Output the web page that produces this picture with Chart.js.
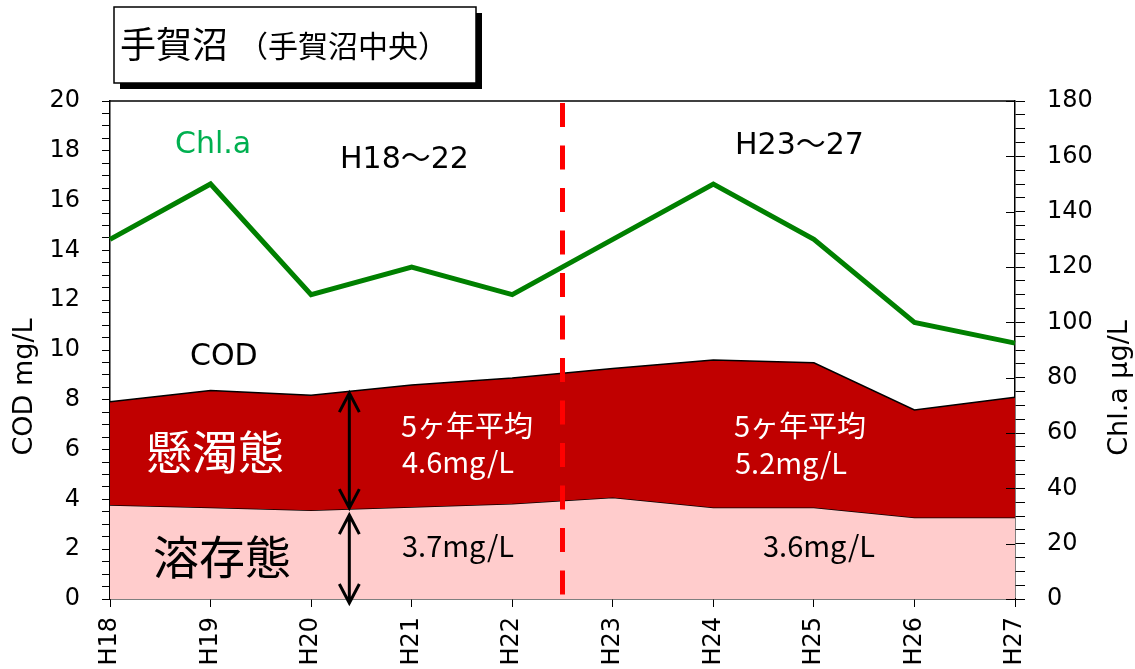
<!DOCTYPE html>
<html lang="ja">
<head>
<meta charset="utf-8">
<title>手賀沼（手賀沼中央）</title>
<script src="https://cdn.jsdelivr.net/npm/chart.js@4.4.1/dist/chart.umd.min.js"></script>
<style>
  html, body { margin: 0; padding: 0; background: #fff; }
  canvas { display: block; }
</style>
</head>
<body>
<canvas id="myChart" width="1135" height="669"></canvas>
<script>
/* globals Chart:false */

// Data
const years = ['H18', 'H19', 'H20', 'H21', 'H22', 'H23', 'H24', 'H25', 'H26', 'H27']
const codDissolved = [3.78, 3.67, 3.56, 3.69, 3.83, 4.08, 3.67, 3.67, 3.27, 3.27]
const codTotal = [7.92, 8.37, 8.18, 8.59, 8.88, 9.26, 9.6, 9.49, 7.59, 8.1]
const chla = [130, 150, 110, 120, 110, 130, 150, 130, 100, 92.5]

const codTicks = [0, 2, 4, 6, 8, 10, 12, 14, 16, 18, 20]
const chlaTicks = [0, 20, 40, 60, 80, 100, 120, 140, 160, 180];

(() => {
  'use strict'

  const JP = '"Noto Sans CJK JP", sans-serif'
  const LAT = '"DejaVu Sans", "Noto Sans CJK JP", sans-serif'

  const arrow = (ctx, x, y0, y1) => {
    ctx.beginPath()
    ctx.moveTo(x, y0)
    ctx.lineTo(x, y1)
    ctx.moveTo(x - 10, y0 + 19)
    ctx.lineTo(x, y0)
    ctx.lineTo(x + 10, y0 + 19)
    ctx.moveTo(x - 10, y1 - 19)
    ctx.lineTo(x, y1)
    ctx.lineTo(x + 10, y1 - 19)
    ctx.stroke()
  }

  const decorations = {
    id: 'decorations',
    afterDraw (chart) {
      const { ctx, chartArea: a, scales: { x, y, y1 } } = chart
      ctx.save()

      // top of plot frame
      ctx.strokeStyle = '#000'
      ctx.lineWidth = 1.5
      ctx.beginPath()
      ctx.moveTo(a.left, a.top)
      ctx.lineTo(a.right, a.top)
      ctx.stroke()

      // right axis major ticks cross the axis line
      ctx.lineWidth = 1
      ctx.beginPath()
      chlaTicks.forEach(v => {
        const py = Math.round(y1.getPixelForValue(v)) + 0.5
        ctx.moveTo(a.right - 9, py)
        ctx.lineTo(a.right, py)
      })
      ctx.stroke()

      // divider between the two 5-year periods
      const xd = x.getPixelForValue(4.5)
      ctx.strokeStyle = '#ff0000'
      ctx.lineWidth = 5
      ctx.setLineDash([24, 18.5])
      ctx.beginPath()
      ctx.moveTo(xd, a.top + 2)
      ctx.lineTo(xd, a.bottom)
      ctx.stroke()
      ctx.setLineDash([])

      // double arrows
      const xa = x.getPixelForValue(2.38)
      ctx.strokeStyle = '#000'
      ctx.lineWidth = 3
      arrow(ctx, xa, y.getPixelForValue(8.27), y.getPixelForValue(3.65))
      arrow(ctx, xa, y.getPixelForValue(3.37), y.getPixelForValue(-0.16))

      // title box with shadow
      ctx.fillStyle = '#000'
      ctx.fillRect(120, 13, 362, 76)
      ctx.fillStyle = '#fff'
      ctx.fillRect(114, 7, 362, 76)
      ctx.strokeStyle = '#000'
      ctx.lineWidth = 1.5
      ctx.strokeRect(114, 7, 362, 76)
      ctx.fillStyle = '#000'
      ctx.textAlign = 'left'
      ctx.textBaseline = 'alphabetic'
      ctx.font = '36px ' + JP
      ctx.fillText('手賀沼', 120, 58)
      ctx.font = '30px ' + JP
      ctx.fillText('（手賀沼中央）', 238, 57)

      // labels inside the plot
      ctx.font = '30px ' + LAT
      ctx.fillStyle = '#00b050'
      ctx.fillText('Chl.a', 175, 153)
      ctx.fillStyle = '#000'
      ctx.fillText('H18〜22', 340, 168)
      ctx.fillText('H23〜27', 735, 154)
      ctx.fillText('COD', 190, 365)

      ctx.font = '46px ' + JP
      ctx.textAlign = 'center'
      ctx.fillStyle = '#fff'
      ctx.fillText('懸濁態', 215, 469)
      ctx.fillStyle = '#000'
      ctx.fillText('溶存態', 222, 574)

      ctx.textAlign = 'left'
      ctx.font = '29px ' + JP
      ctx.fillStyle = '#fff'
      ctx.fillText('5ヶ年平均', 401, 437)
      ctx.fillText('4.6mg/L', 402, 473)
      ctx.fillText('5ヶ年平均', 734, 437)
      ctx.fillText('5.2mg/L', 735, 474)
      ctx.fillStyle = '#000'
      ctx.fillText('3.7mg/L', 402, 557)
      ctx.fillText('3.6mg/L', 763, 557)

      // axis titles
      ctx.font = '27px ' + LAT
      ctx.textAlign = 'center'
      ctx.textBaseline = 'middle'
      ctx.save()
      ctx.translate(25, 387)
      ctx.rotate(-Math.PI / 2)
      ctx.fillText('COD mg/L', 0, 0)
      ctx.restore()
      ctx.save()
      ctx.translate(1120, 388)
      ctx.rotate(-Math.PI / 2)
      ctx.fillText('Chl.a μg/L', 0, 0)
      ctx.restore()

      ctx.restore()
    }
  }

  const tickFont = { family: LAT, size: 24 }

  const ctx = document.getElementById('myChart')
  // eslint-disable-next-line no-unused-vars
  const myChart = new Chart(ctx, {
    type: 'line',
    data: {
      labels: years,
      datasets: [{
        label: '溶存態',
        data: codDissolved,
        yAxisID: 'y',
        fill: 'origin',
        backgroundColor: '#ffcccc',
        borderColor: '#000',
        borderWidth: 1.5,
        lineTension: 0,
        pointRadius: 0,
        order: 2
      }, {
        label: 'COD',
        data: codTotal,
        yAxisID: 'y',
        fill: '-1',
        backgroundColor: '#c00000',
        borderColor: '#000',
        borderWidth: 1.5,
        lineTension: 0,
        pointRadius: 0,
        order: 1
      }, {
        label: 'Chl.a',
        data: chla,
        yAxisID: 'y1',
        fill: false,
        borderColor: '#008000',
        borderWidth: 5,
        lineTension: 0,
        pointRadius: 0,
        order: 0
      }]
    },
    options: {
      responsive: false,
      animation: false,
      layout: { padding: { top: 101, left: 0, right: 0, bottom: 0 } },
      plugins: {
        legend: { display: false },
        tooltip: { enabled: false }
      },
      scales: {
        x: {
          offset: false,
          grid: { drawOnChartArea: false, tickLength: 8, color: '#000' },
          border: { color: '#000', width: 1.5 },
          ticks: { font: tickFont, color: '#000', minRotation: 90, maxRotation: 90, padding: 10, autoSkip: false },
          afterFit: s => { s.height = 70 }
        },
        y: {
          position: 'left',
          min: 0,
          max: 20,
          grid: { drawOnChartArea: false, tickLength: 8, color: '#000' },
          border: { color: '#000', width: 1.5 },
          ticks: {
            stepSize: 0.5,
            autoSkip: false,
            font: tickFont,
            color: '#000',
            padding: 22,
            callback: v => codTicks.includes(v) ? v : ''
          },
          afterFit: s => { s.width = 110 }
        },
        y1: {
          position: 'right',
          min: 0,
          max: 180,
          grid: { drawOnChartArea: false, tickLength: 10, color: '#000' },
          border: { color: '#000', width: 1.5 },
          ticks: {
            stepSize: 5,
            autoSkip: false,
            font: tickFont,
            color: '#000',
            padding: 22,
            callback: v => chlaTicks.includes(v) ? v : ''
          },
          afterFit: s => { s.width = 120 }
        }
      }
    },
    plugins: [decorations]
  })
})()
</script>
</body>
</html>
